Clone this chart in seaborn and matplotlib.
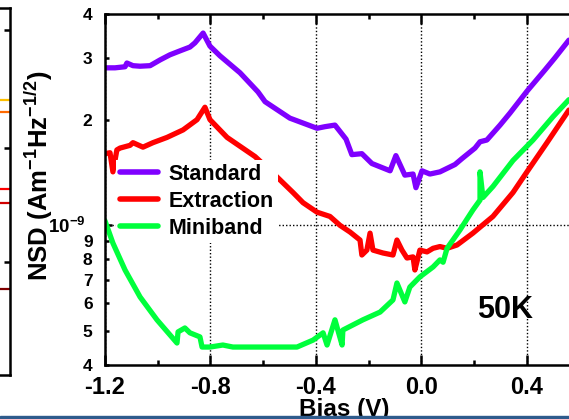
import numpy as np
import pandas as pd
import seaborn as sns
import matplotlib.pyplot as plt
from matplotlib.patches import Rectangle

sns.set_style("ticks")
plt.rcParams["font.family"] = ["Liberation Sans", "DejaVu Sans"]
plt.rcParams["font.weight"] = "bold"
plt.rcParams["axes.labelweight"] = "bold"
plt.rcParams["mathtext.fontset"] = "custom"
plt.rcParams["mathtext.rm"] = "Liberation Sans:bold"
plt.rcParams["mathtext.bf"] = "Liberation Sans:bold"
plt.rcParams["mathtext.it"] = "Liberation Sans:bold"
for key in ["text.color", "axes.labelcolor", "xtick.color", "ytick.color", "axes.edgecolor"]:
    plt.rcParams[key] = "black"

# noise spectral density, units of 1e-10 A m^-1 Hz^-1/2
std_bias = [-1.2, -1.162, -1.124, -1.117, -1.094, -1.067, -1.029, -0.991, -0.954, -0.916,
            -0.878, -0.859, -0.828, -0.802, -0.764, -0.688, -0.620, -0.593, -0.499, -0.396,
            -0.366, -0.328, -0.286, -0.264, -0.226, -0.188, -0.119, -0.097, -0.063, -0.032,
            -0.021, 0.002, 0.032, 0.070, 0.127, 0.154, 0.203, 0.222, 0.248, 0.298,
            0.336, 0.400, 0.468, 0.506, 0.559]
std_nsd = [28.1, 28.1, 28.3, 29.0, 28.5, 28.4, 28.5, 29.6, 30.6, 31.4,
           32.2, 33.1, 35.3, 32.4, 30.4, 27.2, 24.0, 22.5, 20.2, 18.9,
           19.1, 19.3, 17.6, 15.9, 16.0, 15.0, 14.3, 15.8, 13.9, 14.0,
           12.8, 14.3, 14.0, 14.2, 14.9, 15.5, 16.6, 17.3, 17.5, 19.3,
           20.9, 24.1, 27.7, 30.0, 33.7]

ext_bias = [-1.2, -1.181, -1.170, -1.155, -1.143, -1.105, -1.094, -1.056, -1.018, -0.965,
            -0.904, -0.851, -0.821, -0.802, -0.737, -0.631, -0.555, -0.487, -0.449, -0.396,
            -0.347, -0.309, -0.271, -0.233, -0.226, -0.207, -0.195, -0.184, -0.146, -0.108,
            -0.093, -0.074, -0.055, -0.032, -0.025, -0.006, 0.021, 0.044, 0.070, 0.097,
            0.135, 0.195, 0.271, 0.347, 0.400, 0.476, 0.559]
ext_nsd = [16.0, 16.1, 14.2, 16.4, 16.6, 16.9, 17.2, 16.7, 17.2, 17.8,
           18.7, 20.0, 21.7, 20.0, 17.8, 15.7, 13.9, 12.4, 11.6, 10.9,
           10.6, 10.0, 9.57, 9.08, 8.23, 8.5, 9.5, 8.5, 8.34, 8.23,
           9.08, 8.5, 8.07, 8.13, 7.46, 8.5, 8.4, 8.6, 8.7, 8.6,
           8.79, 9.5, 10.6, 12.4, 14.2, 17.2, 21.3]

mini_bias = [-1.2, -1.170, -1.124, -1.067, -1.003, -0.927, -0.923, -0.897, -0.878, -0.840,
             -0.832, -0.802, -0.753, -0.715, -0.548, -0.472, -0.411, -0.373, -0.358, -0.328,
             -0.301, -0.298, -0.222, -0.157, -0.108, -0.093, -0.063, -0.044, -0.006, 0.044,
             0.070, 0.082, 0.097, 0.146, 0.195, 0.222, 0.222, 0.233, 0.271, 0.347,
             0.423, 0.499, 0.559]
mini_nsd = [10.3, 8.9, 7.46, 6.25, 5.38, 4.62, 4.97, 5.10, 4.94, 4.81,
            4.50, 4.50, 4.56, 4.50, 4.50, 4.50, 4.71, 4.94, 4.56, 5.38,
            4.56, 5.03, 5.38, 5.66, 6.13, 6.85, 6.05, 6.67, 7.13, 7.61,
            7.97, 7.85, 8.6, 9.7, 11.06, 11.8, 14.2, 12.0, 12.9, 15.3,
            17.5, 20.4, 22.8]

series = ["Standard", "Extraction", "Miniband"]
colors = ["#7F00FF", "#FF0000", "#00FF3C"]

x_ticks = [-1.2, -0.8, -0.4, 0.0, 0.4]
x_tick_labels = ["-1.2", "-0.8", "-0.4", "0.0", "0.4"]
x_minor = [-1.0, -0.6, -0.2, 0.2]
y_major = [1e-9]
y_major_labels = [r"$\mathbf{10^{-9}}$"]
y_minor = [4e-10, 5e-10, 6e-10, 7e-10, 8e-10, 9e-10, 2e-9, 3e-9, 4e-9]
y_minor_labels = ["4", "5", "6", "7", "8", "9", "2", "3", "4"]

# partial neighbouring panel on the far left
left_ticks = [0.940, 0.619, 0.308]
left_levels = [0.749, 0.717, 0.507, 0.469, 0.234]
left_colors = ["#FFC000", "#FF6A00", "#FF0000", "#D00000", "#800000"]

frames = []
for name, b, v in zip(series, [std_bias, ext_bias, mini_bias], [std_nsd, ext_nsd, mini_nsd]):
    frames.append(pd.DataFrame({"bias": b, "nsd": np.array(v) * 1e-10, "series": name}))
df = pd.concat(frames, ignore_index=True)

fig = plt.figure(figsize=(5.69, 4.19), dpi=100)
ax = fig.add_axes([105 / 569, 1 - 365 / 419, 474.7 / 569, 351 / 419])

sns.lineplot(data=df, x="bias", y="nsd", hue="series", palette=colors,
             sort=False, estimator=None, lw=3.8, ax=ax)

ax.set_yscale("log")
ax.set_xlim(-1.2, 0.6)
ax.set_ylim(4e-10, 4e-9)
ax.set_xticks(x_ticks, labels=x_tick_labels)
ax.set_xticks(x_minor, minor=True)
ax.set_yticks(y_major, labels=y_major_labels)
ax.set_yticks(y_minor, labels=y_minor_labels, minor=True)

ax.grid(True, which="major", color="black", lw=1.0, ls=(0, (1, 1.5)))
for s in ax.spines.values():
    s.set_linewidth(1.8)
ax.tick_params(axis="x", which="major", direction="in", top=True, length=7, width=1.8,
               labelsize=17, pad=8)
ax.tick_params(axis="x", which="minor", direction="in", top=True, length=3.5, width=1.8)
ax.tick_params(axis="y", which="major", direction="in", length=5, width=1.8,
               labelsize=13.5, pad=14)
ax.tick_params(axis="y", which="minor", direction="in", length=3, width=1.8,
               labelsize=12.5, pad=9)

ax.set_xlabel("Bias (V)", fontsize=17.5)
ax.xaxis.set_label_coords(0.503, -0.093)
ax.set_ylabel(r"NSD (Am$^{-1}$Hz$^{-1/2}$)", fontsize=18.5)
ax.yaxis.set_label_coords(-0.105, 0.54)

handles, labels = ax.get_legend_handles_labels()
ax.legend(handles, labels, loc="upper left", bbox_to_anchor=(0.0225, 0.585),
          borderaxespad=0, borderpad=0.2, fontsize=15.5, handlelength=1.77,
          handletextpad=0.47, labelspacing=0.28, frameon=True, fancybox=False,
          edgecolor="none", facecolor="white", framealpha=1)
for line in ax.get_legend().get_lines():
    line.set_linewidth(4)

ax.text(0.317, 5.72e-10, "50K", fontsize=22, fontweight="bold", ha="center", va="center")

# neighbouring panel stub
axl = fig.add_axes([-0.2, 1 - 375 / 419, 0.2176, 367 / 419])
axl.set_xlim(0, 1)
axl.set_ylim(0, 1)
for lv, c in zip(left_levels, left_colors):
    axl.plot([0.85, 1.0], [lv, lv], color=c, lw=1.6)
axl.set_yticks(left_ticks)
axl.set_xticks([])
axl.tick_params(axis="y", left=False, right=True, direction="in", length=4, width=1.8,
                labelleft=False)
for s in axl.spines.values():
    s.set_linewidth(1.8)

fig.patches.append(Rectangle((0, 0), 1, 3 / 419, transform=fig.transFigure,
                             color="#2E5B8C", zorder=5))

fig.savefig("out.png", dpi=100)
